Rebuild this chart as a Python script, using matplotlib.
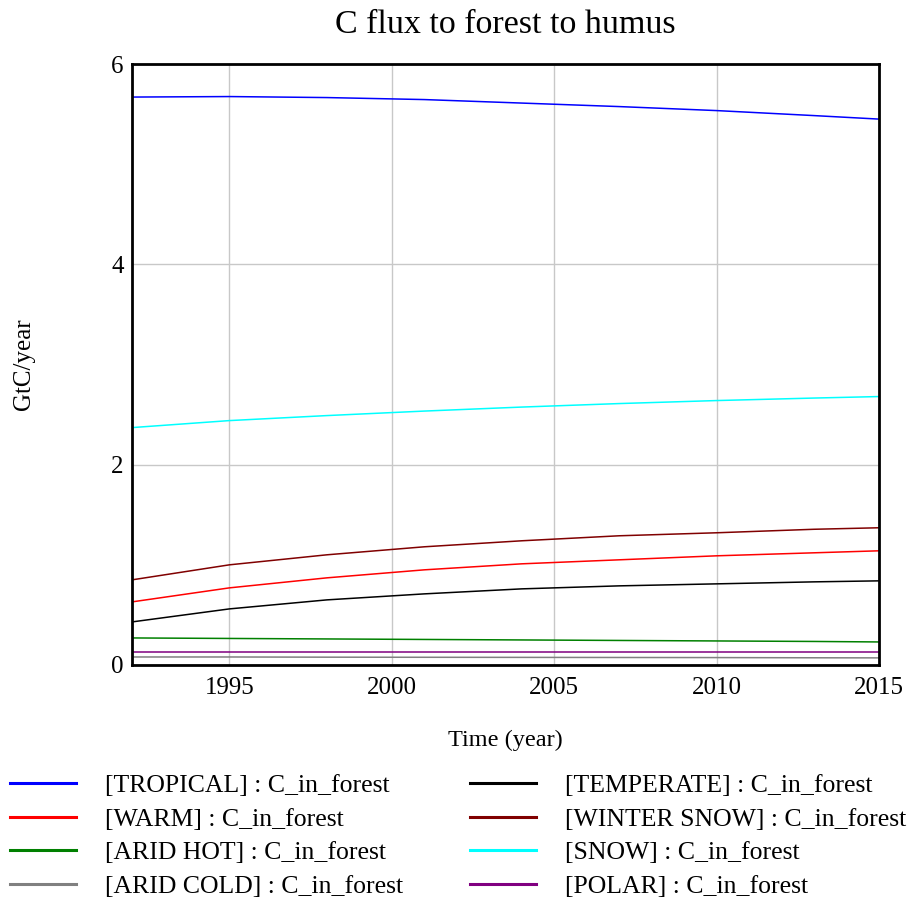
import matplotlib
matplotlib.use("Agg")
import matplotlib.pyplot as plt
from matplotlib.lines import Line2D

plt.rcParams["font.family"] = ["Liberation Serif", "DejaVu Serif"]

# Simulation output, sampled on the time axis (year)
years = [1992, 1995, 1998, 2001, 2004, 2007, 2010, 2013, 2015]

tropical = [5.67, 5.675, 5.665, 5.645, 5.61, 5.575, 5.535, 5.485, 5.45]
warm = [0.63, 0.77, 0.87, 0.95, 1.01, 1.05, 1.09, 1.12, 1.14]
arid_hot = [0.27, 0.265, 0.26, 0.255, 0.25, 0.245, 0.24, 0.235, 0.23]
arid_cold = [0.08, 0.08, 0.078, 0.077, 0.076, 0.075, 0.074, 0.072, 0.071]
temperate = [0.43, 0.56, 0.65, 0.71, 0.76, 0.79, 0.81, 0.83, 0.84]
winter_snow = [0.85, 1.00, 1.10, 1.18, 1.24, 1.29, 1.32, 1.355, 1.37]
snow = [2.37, 2.44, 2.49, 2.535, 2.575, 2.61, 2.64, 2.665, 2.68]
polar = [0.13, 0.13, 0.13, 0.13, 0.13, 0.13, 0.13, 0.13, 0.13]

regions = ["TROPICAL", "WARM", "ARID HOT", "ARID COLD",
           "TEMPERATE", "WINTER SNOW", "SNOW", "POLAR"]
series = [tropical, warm, arid_hot, arid_cold,
          temperate, winter_snow, snow, polar]
colors = ["#0000ff", "#ff0000", "#008000", "#808080",
          "#000000", "#800000", "#00ffff", "#800080"]

x_ticks = [1995, 2000, 2005, 2010, 2015]
y_ticks = [0, 2, 4, 6]

fig = plt.figure(figsize=(9.09, 8.99), dpi=100)
ax = fig.add_axes([0.1452, 0.2603, 0.8218, 0.6685])

for vals, col in zip(series, colors):
    ax.plot(years, vals, color=col, linewidth=1.1, solid_capstyle="butt")

ax.set_xlim(1992, 2015)
ax.set_ylim(0, 6)
ax.set_xticks(x_ticks)
ax.set_yticks(y_ticks)
ax.grid(True, color="#c8c8c8", linewidth=1.0)
ax.set_axisbelow(True)
ax.tick_params(axis="x", length=0, labelsize=18, pad=9)
ax.tick_params(axis="y", length=0, labelsize=18, pad=6)
for sp in ax.spines.values():
    sp.set_linewidth(2.0)
    sp.set_color("black")

ax.set_title("C flux to forest to humus", fontsize=24.5, pad=22)
ax.set_xlabel("Time (year)", fontsize=17.5, labelpad=22)
ax.set_ylabel("GtC/year", fontsize=18, labelpad=55)

handles = [Line2D([], [], color=c, linewidth=2.2) for c in colors]
labels = [f"[{r}] : C_in_forest" for r in regions]
fig.legend(handles, labels, ncol=2, loc="upper left",
           bbox_to_anchor=(0.011, 0.139), frameon=False, fontsize=18.5,
           handlelength=2.55, handletextpad=1.15, columnspacing=2.6,
           labelspacing=0.41, borderpad=0, borderaxespad=0)

fig.savefig("out.png", dpi=100)
